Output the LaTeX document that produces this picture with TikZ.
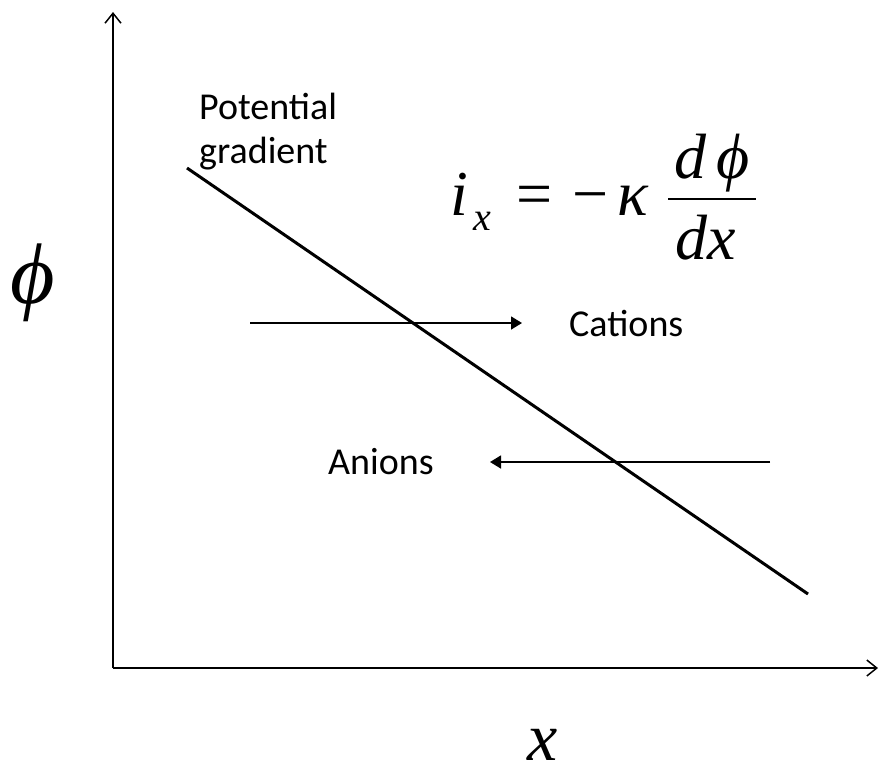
\documentclass[tikz,border=0pt]{standalone}
\usepackage{fontspec}
\setmainfont{Carlito}
\newfontfamily\tms{Liberation Serif}
\usetikzlibrary{arrows.meta}
\tikzset{
  axis/.style={line width=1.5pt,-{Straight Barb[length=10pt,width=16pt,line width=1.5pt]}},
  ion/.style={line width=1.6pt,-{Triangle[length=11pt,width=13pt]}},
  grad/.style={line width=3pt},
  lbl/.style={font=\fontsize{38}{44}\selectfont, inner sep=0pt},
  mth/.style={font=\tms\itshape\fontsize{64}{70}\selectfont, inner sep=0pt}
}
\begin{document}
\begin{tikzpicture}[x=1pt,y=-1pt]
\useasboundingbox (0,0) rectangle (880,769);
\coordinate (O) at (113,668);
\coordinate (ytop) at (113,12);
\coordinate (xend) at (878,668);
\draw[axis] (O) -- (ytop);
\draw[axis] (O) -- (xend);
\coordinate (g1) at (187,168);
\coordinate (g2) at (808,594);
\draw[grad] (g1) -- (g2);
\coordinate (c1) at (250,323);
\coordinate (c2) at (522,323);
\draw[ion] (c1) -- (c2);
\coordinate (a1) at (770,462);
\coordinate (a2) at (490,462);
\draw[ion] (a1) -- (a2);
\node[lbl, anchor=west] (cat) at (569,323) {Cations};
\node[lbl, anchor=west] (an) at (328,462) {Anions};
\node[lbl, anchor=base west] (pot) at (199,119) {Potential};
\node[lbl, anchor=base west] (gr) at (199,163) {gradient};
\node[inner sep=0pt, font=\tms\itshape\fontsize{86}{90}\selectfont, anchor=base] (phi) at (33,303) {ϕ};
\node[inner sep=0pt, font=\tms\itshape\fontsize{68}{70}\selectfont, anchor=base] (xl) at (543,760) {x};
\node[mth, anchor=base west] (ii) at (450,215) {i};
\node[mth, anchor=base west, font=\tms\itshape\fontsize{40}{44}\selectfont] (isub) at (473,230) {x};
\node[mth, anchor=base] (eq) at (535,215) {\upshape =};
\node[mth, anchor=base] (mn) at (591,215) {\upshape −};
\node[mth, anchor=base] (kap) at (633,215) {κ};
\node[mth, anchor=base] (num) at (712,178) {d\,ϕ};
\node[mth, anchor=base] (den) at (706,259) {dx};
\coordinate (b1) at (668,199);
\coordinate (b2) at (756,199);
\draw[line width=2.4pt] (b1) -- (b2);
\end{tikzpicture}
\end{document}
